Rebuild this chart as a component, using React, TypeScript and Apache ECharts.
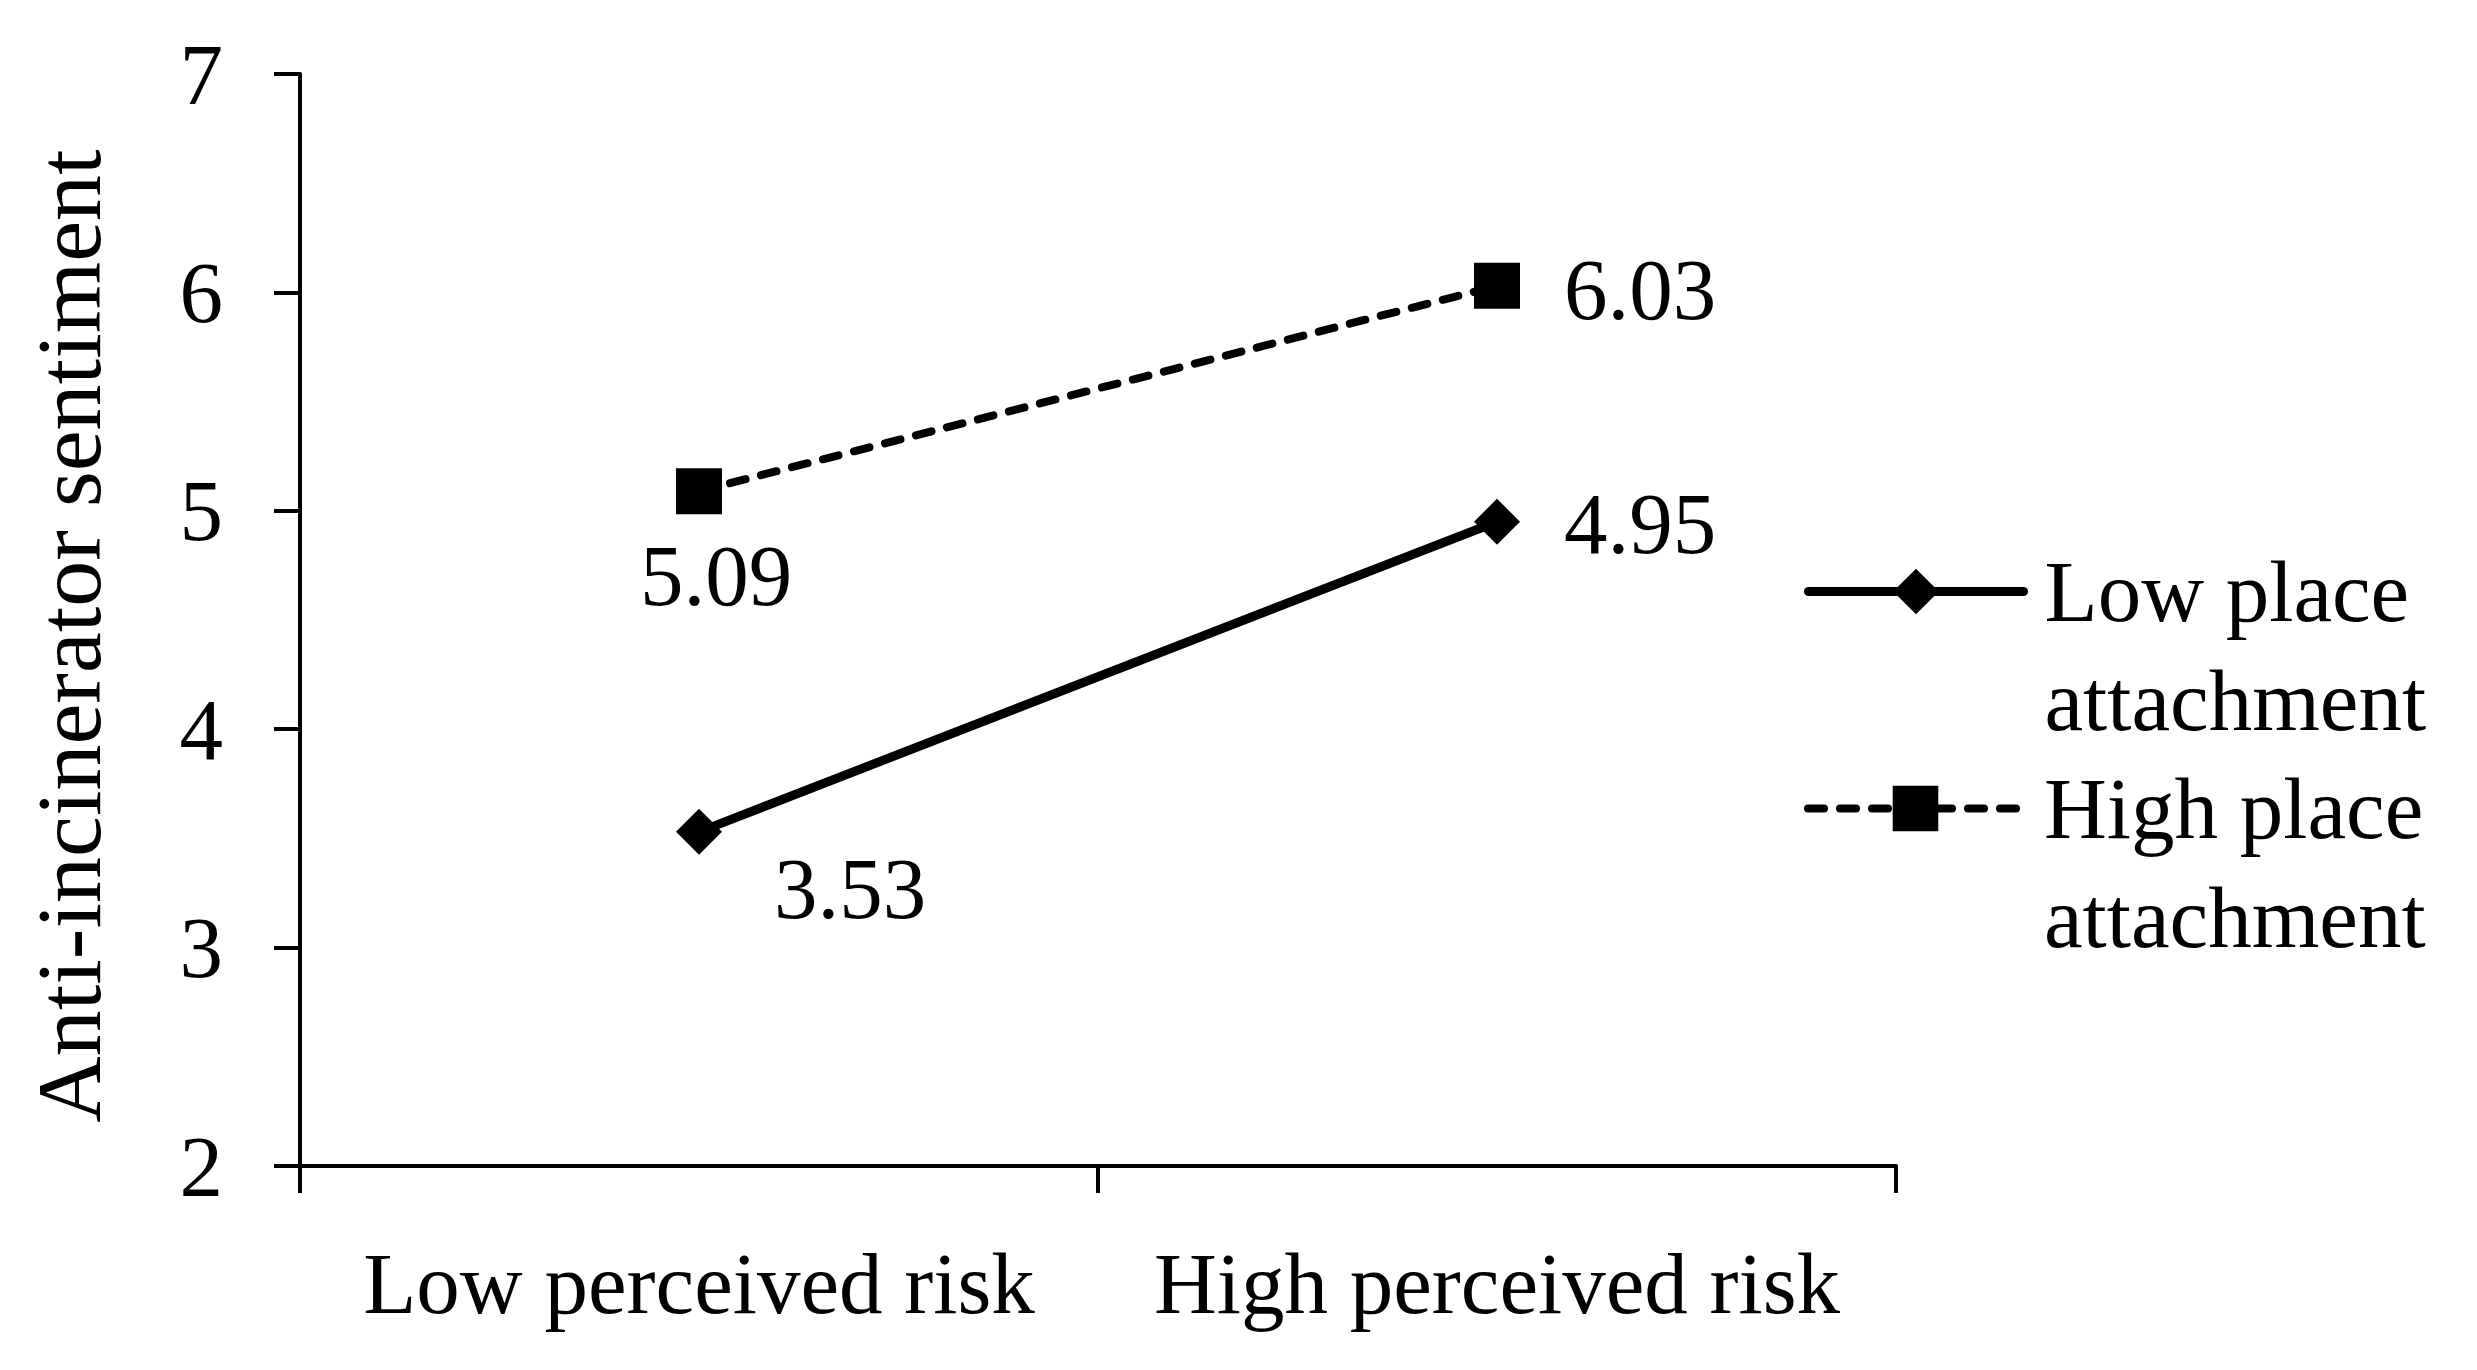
import React, { useEffect, useRef } from "react";
import * as echarts from "echarts";

const categories = ["Low perceived risk", "High perceived risk"];
const seriesNames = ["Low place attachment", "High place attachment"];
const lowPlaceValues = [3.53, 4.95];
const highPlaceValues = [5.09, 6.03];
const yMin = 2;
const yMax = 7;
const yInterval = 1;

const FONT = "Liberation Serif";
const FS = 87;

// label offsets (style), per point
const lowLabelOffsets = [
  [151, 57],
  [143, 2],
];
const highLabelOffsets = [
  [17, 84],
  [143, 4],
];

export default function App() {
  const ref = useRef<HTMLDivElement>(null);

  useEffect(() => {
    if (!ref.current) return;
    const chart = echarts.init(ref.current, undefined, { renderer: "svg" });

    const labelBase = {
      show: true,
      position: "inside",
      color: "#000",
      fontFamily: FONT,
      fontSize: FS,
      formatter: (p: any) => Number(p.value).toFixed(2),
    };

    const legendCommon = {
      orient: "vertical",
      left: 1804,
      padding: 0,
      itemWidth: 215,
      itemHeight: 57,
      selectedMode: false,
      formatter: (n: string) => {
        const parts = n.split(" attachment");
        return "{a|" + parts[0] + "}\n{a|attachment}";
      },
      textStyle: {
        fontFamily: FONT,
        fontSize: FS,
        color: "#000",
        lineHeight: 109,
        padding: [109, 0, 0, 16],
        rich: {
          a: { fontFamily: FONT, fontSize: FS, color: "#000", lineHeight: 109 },
        },
      },
    };

    chart.setOption({
      animation: false,
      backgroundColor: "#fff",
      grid: { left: 300, right: 581, top: 74, bottom: 204, containLabel: false },
      legend: [
        {
          ...legendCommon,
          data: [seriesNames[0]],
          top: 428,
          lineStyle: { width: 9, color: "#000", type: "solid", cap: "round" },
        },
        {
          ...legendCommon,
          data: [seriesNames[1]],
          top: 645,
          lineStyle: { width: 8, color: "#000", type: [16, 16], cap: "round" },
        },
      ],
      xAxis: {
        type: "category",
        data: categories,
        boundaryGap: true,
        axisLine: { lineStyle: { color: "#000", width: 4 } },
        axisTick: { show: true, interval: 0, length: 27, lineStyle: { color: "#000", width: 4 } },
        axisLabel: { color: "#000", fontFamily: FONT, fontSize: FS, margin: 74, interval: 0 },
        splitLine: { show: false },
      },
      yAxis: {
        type: "value",
        min: yMin,
        max: yMax,
        interval: yInterval,
        name: "Anti-incinerator sentiment",
        nameLocation: "middle",
        nameGap: 185,
        nameTextStyle: { color: "#000", fontFamily: FONT, fontSize: 92, padding: [0, 32, 0, 0] },
        axisLine: { show: true, lineStyle: { color: "#000", width: 4 } },
        axisTick: { show: true, length: 26, lineStyle: { color: "#000", width: 4 } },
        axisLabel: { color: "#000", fontFamily: FONT, fontSize: FS, margin: 77 },
        splitLine: { show: false },
      },
      series: [
        {
          name: seriesNames[0],
          type: "line",
          data: lowPlaceValues.map((v, i) => ({
            value: v,
            label: { ...labelBase, offset: lowLabelOffsets[i] },
          })),
          symbol: "diamond",
          symbolSize: 46,
          itemStyle: { color: "#000" },
          lineStyle: { color: "#000", width: 9, type: "solid" },
          label: labelBase,
        },
        {
          name: seriesNames[1],
          type: "line",
          data: highPlaceValues.map((v, i) => ({
            value: v,
            label: { ...labelBase, offset: highLabelOffsets[i] },
          })),
          symbol: "rect",
          symbolSize: 46,
          itemStyle: { color: "#000" },
          lineStyle: { color: "#000", width: 8, type: [16, 16], cap: "round" },
          label: labelBase,
        },
      ],
    });

    return () => chart.dispose();
  }, []);

  return (
    <div
      ref={ref}
      style={{ position: "absolute", left: 0, top: 0, width: 2477, height: 1370 }}
    />
  );
}
